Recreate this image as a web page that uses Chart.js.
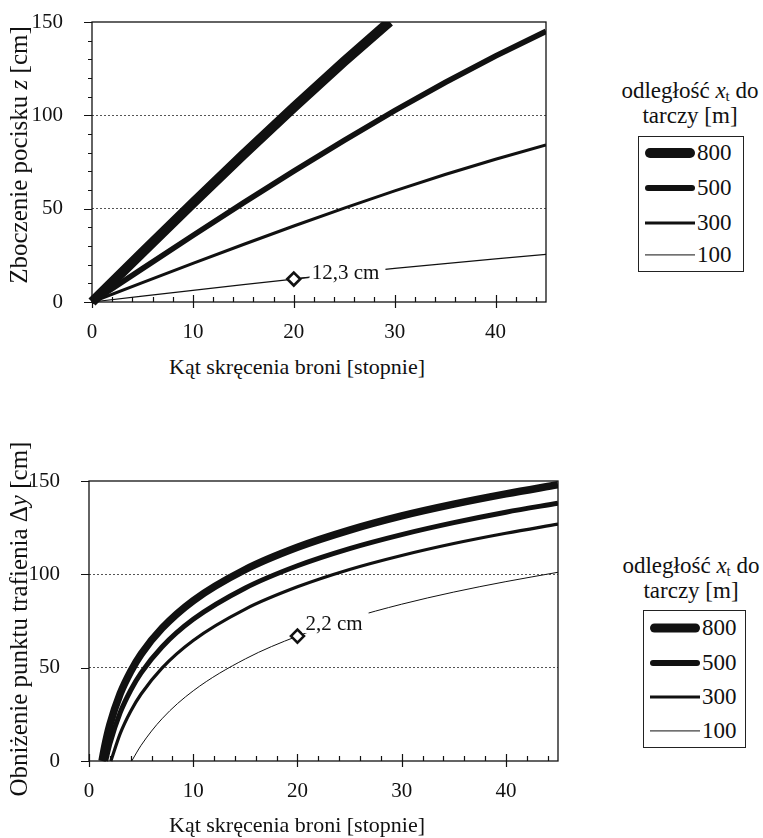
<!DOCTYPE html>
<html lang="pl">
<head>
<meta charset="UTF-8">
<title>Zboczenie i obniżenie pocisku</title>
<script src="https://cdn.jsdelivr.net/npm/chart.js"></script>
<style>
  body { margin: 0; width: 763px; height: 838px; background: #fff; position: relative; overflow: hidden;
         font-family: 'Liberation Serif', 'DejaVu Serif', serif; color: #111; }
  canvas { position: absolute; left: 0; }
  .ytitle { position: absolute; font-size: 25px; white-space: nowrap; transform: translate(-50%, -50%) rotate(-90deg); }
  .xtitle { position: absolute; font-size: 22px; white-space: nowrap; transform: translateX(-50%); }
  .ltitle { position: absolute; font-size: 23px; white-space: nowrap; text-align: center; line-height: 25px; transform: translateX(-50%); }
  .legend { position: absolute; border: 1px solid #222; box-sizing: border-box; }
  .row { position: absolute; left: 0; width: 100%; height: 0; }
  .sample { position: absolute; left: 6px; width: 50px; background: #111; transform: translateY(-50%); }
  .lab { position: absolute; left: 58px; font-size: 23px; line-height: 24px; transform: translateY(-50%); }
  i { font-style: italic; }
  sub { font-size: 15px; vertical-align: -3px; line-height: 0; }
</style>
</head>
<body>
<canvas id="topChart" width="600" height="345" style="top:0"></canvas>
<canvas id="bottomChart" width="600" height="398" style="top:440px"></canvas>

<div class="ytitle" style="left:19px; top:155px">Zboczenie pocisku <i>z</i> [cm]</div>
<div class="xtitle" style="left:297px; top:354px">Kąt skręcenia broni [stopnie]</div>
<div class="ytitle" style="left:19px; top:619px">Obniżenie punktu trafienia Δ<i>y</i> [cm]</div>
<div class="xtitle" style="left:297px; top:812px">Kąt skręcenia broni [stopnie]</div>

<div class="ltitle" style="left:690px; top:78px">odległość <i>x</i><sub>t</sub> do<br>tarczy [m]</div>
<div class="legend" id="legendTop" style="left:638px; top:136px; width:106px; height:136px"></div>
<div class="ltitle" style="left:691px; top:553px">odległość <i>x</i><sub>t</sub> do<br>tarczy [m]</div>
<div class="legend" id="legendBottom" style="left:643px; top:610px; width:103px; height:138px"></div>

<script>
// distances to target [m]
const distances = ['800', '500', '300', '100'];

// top chart: deviation z [cm] vs cant angle [deg]
const angleTop = [0, 5, 10, 15, 20, 25, 30, 35, 40, 45];
const angleTop800 = [0, 5, 10, 15, 20, 25, 29.5];
const zTop800 = [0, 26.6, 53.0, 78.9, 104.3, 128.9, 150.2];
const zTop500 = [0, 17.9, 35.6, 53.1, 70.1, 86.6, 102.5, 117.6, 131.8, 145.0];
const zTop300 = [0, 10.4, 20.7, 30.8, 40.7, 50.3, 59.5, 68.3, 76.5, 84.1];
const zTop100 = [0, 3.1, 6.2, 9.3, 12.3, 15.2, 18.0, 20.6, 23.1, 25.5];
const markTop = { x: 20, y: 12.3, text: '12,3 cm' };

// bottom chart: drop of point of impact dy [cm] vs cant angle [deg]
const angle800 = [1.25, 1.5, 2, 3, 4, 5, 7, 10, 15, 20, 25, 30, 35, 40, 45];
const dy800 = [0, 7.5, 19.4, 36.2, 48.0, 57.3, 71.1, 85.9, 102.6, 114.5, 123.7, 131.3, 137.6, 143.1, 148.0];
const angle500 = [1.6, 2, 3, 4, 5, 7, 10, 15, 20, 25, 30, 35, 40, 45];
const dy500 = [0, 9.2, 26.0, 37.9, 47.2, 61.1, 75.9, 92.7, 104.6, 113.8, 121.3, 127.7, 133.3, 138.1];
const angle300 = [2.1, 3, 4, 5, 7, 10, 15, 20, 25, 30, 35, 40, 45];
const dy300 = [0, 14.8, 26.7, 35.9, 49.8, 64.6, 81.4, 93.3, 102.6, 110.1, 116.5, 122.0, 126.9];
const angle100 = [4.1, 5, 7, 10, 15, 20, 25, 30, 35, 40, 45];
const dy100 = [0, 8.4, 22.6, 37.6, 54.7, 66.9, 76.3, 84.0, 90.5, 96.1, 101.1];
const markBottom = { x: 20, y: 66.9, text: '2,2 cm' };

const xTicks = [0, 10, 20, 30, 40];
const yTicks = [0, 50, 100, 150];

const pts = (xs, ys) => xs.map((x, i) => ({ x: x, y: ys[i] }));
const font = { family: 'Liberation Serif', size: 21 };

// frame, tick marks and the point label
const framePlugin = {
  id: 'frame',
  afterDatasetsDraw(chart, args, opts) {
    const { ctx, chartArea: a, scales: { x, y } } = chart;
    ctx.save();
    // label on a white patch that hides the curve under it
    const m = opts.mark;
    const px = x.getPixelForValue(m.x), py = y.getPixelForValue(m.y);
    ctx.font = '21px "Liberation Serif"';
    const w = ctx.measureText(m.text).width;
    const lx = px + opts.labelDx, ly = py + opts.labelDy;
    ctx.fillStyle = '#fff';
    ctx.fillRect(lx - 3, ly - 11, w + 9, 21);
    ctx.fillStyle = '#111';
    ctx.textBaseline = 'middle';
    ctx.fillText(m.text, lx, ly + 1);
    if (opts.stub) {
      ctx.strokeStyle = '#111';
      ctx.lineWidth = 1;
      ctx.beginPath();
      ctx.moveTo(px + 7, py - 1);
      ctx.lineTo(lx - 2, py - 2);
      ctx.stroke();
    }
    // frame
    ctx.strokeStyle = '#111';
    ctx.lineWidth = 1.3;
    ctx.strokeRect(a.left, a.top, a.right - a.left, a.bottom - a.top);
    // tick marks
    ctx.lineWidth = 1.2;
    ctx.beginPath();
    for (let v = 0; v <= 45; v += 2) {
      const tx = Math.round(x.getPixelForValue(v)) + 0.5;
      ctx.moveTo(tx, a.bottom);
      ctx.lineTo(tx, a.bottom - 5);
    }
    for (let v = 0; v <= 40; v += 10) {
      const tx = Math.round(x.getPixelForValue(v)) + 0.5;
      ctx.moveTo(tx, a.bottom + 6);
      ctx.lineTo(tx, a.bottom - 7);
    }
    for (let v = 0; v <= 150; v += opts.minorY) {
      const ty = Math.round(y.getPixelForValue(v)) + 0.5;
      const len = v % 50 === 0 ? 8 : 4;
      ctx.moveTo(a.left - len, ty);
      ctx.lineTo(a.left, ty);
    }
    ctx.stroke();
    ctx.restore();
  }
};

function makeChart(id, series, mark, area, pluginOpts, curved) {
  const widths = curved ? [7.5, 5, 3.2, 1] : [10, 5.5, 3, 1.2];
  const datasets = series.map((s, i) => ({
    label: distances[i],
    data: s,
    borderColor: '#111',
    borderWidth: widths[i],
    pointRadius: 0,
    tension: 0,
    cubicInterpolationMode: curved ? 'monotone' : 'default',
    borderCapStyle: 'butt',
    clip: { left: 6, top: 0, right: 0, bottom: 6 },
    order: 2
  }));
  datasets.push({
    label: 'marker',
    data: [{ x: mark.x, y: mark.y }],
    showLine: false,
    pointStyle: 'rectRot',
    pointRadius: 6.5,
    pointBorderWidth: 2.6,
    pointBorderColor: '#111',
    pointBackgroundColor: '#fff',
    order: 1
  });
  return new Chart(document.getElementById(id), {
    type: 'line',
    data: { datasets: datasets },
    options: {
      responsive: false,
      animation: false,
      devicePixelRatio: 1,
      layout: { padding: area.padding },
      plugins: { legend: { display: false }, tooltip: { enabled: false }, frame: pluginOpts },
      scales: {
        x: {
          type: 'linear', min: 0, max: 45,
          afterFit: s => { s.height = 40; },
          afterBuildTicks: s => { s.ticks = xTicks.map(v => ({ value: v })); },
          grid: { display: false },
          border: { display: false },
          ticks: { font: font, color: '#111', padding: 10 }
        },
        y: {
          min: 0, max: 150,
          afterFit: s => { s.width = area.yWidth; s.paddingTop = 12; s.paddingBottom = 12; },
          afterBuildTicks: s => { s.ticks = yTicks.map(v => ({ value: v })); },
          grid: {
            drawTicks: false,
            lineWidth: 1,
            color: c => (c.tick && (c.tick.value === 50 || c.tick.value === 100)) ? '#555' : 'rgba(0,0,0,0)'
          },
          border: { display: false, dash: [2, 2] },
          ticks: { font: font, color: '#111', padding: 29 }
        }
      }
    },
    plugins: [framePlugin]
  });
}

makeChart('topChart',
  [pts(angleTop800, zTop800), pts(angleTop, zTop500), pts(angleTop, zTop300), pts(angleTop, zTop100)],
  markTop,
  { padding: { left: 0, top: 22, right: 54, bottom: 3 }, yWidth: 92 },
  { mark: markTop, labelDx: 18, labelDy: -7, minorY: 10, stub: true },
  false);

makeChart('bottomChart',
  [pts(angle800, dy800), pts(angle500, dy500), pts(angle300, dy300), pts(angle100, dy100)],
  markBottom,
  { padding: { left: 0, top: 41, right: 42, bottom: 37 }, yWidth: 89 },
  { mark: markBottom, labelDx: 8, labelDy: -13, minorY: 50, stub: false },
  true);

// html legends
function buildLegend(id, heights, rows, round) {
  const box = document.getElementById(id);
  distances.forEach((d, i) => {
    const r = document.createElement('div');
    r.className = 'row';
    r.style.top = rows[i] + 'px';
    const s = document.createElement('div');
    s.className = 'sample';
    s.style.height = heights[i] + 'px';
    if (round && i < 2) s.style.borderRadius = heights[i] / 2 + 'px';
    const l = document.createElement('div');
    l.className = 'lab';
    l.textContent = d;
    r.appendChild(s);
    r.appendChild(l);
    box.appendChild(r);
  });
}
buildLegend('legendTop', [10, 6, 3, 1.2], [16, 51, 86, 118], true);
buildLegend('legendBottom', [9, 6, 3, 1.2], [17, 52, 86, 120], true);
</script>
</body>
</html>
